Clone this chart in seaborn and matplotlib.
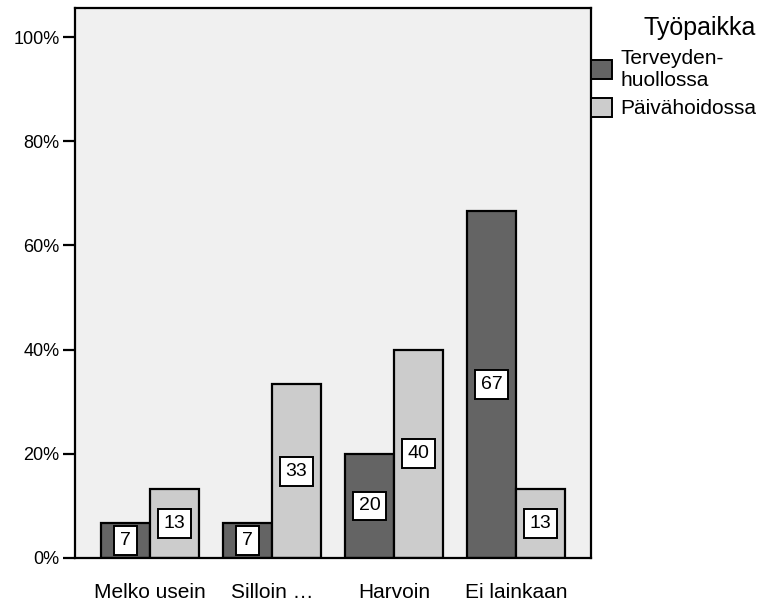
import matplotlib
matplotlib.use("Agg")
import matplotlib.pyplot as plt
import seaborn as sns
import pandas as pd

categories = ["Melko usein", "Silloin …", "Harvoin", "Ei lainkaan"]
groups = ["Terveyden-\nhuollossa", "Päivähoidossa"]
terveys = [6.67, 6.67, 20.0, 66.67]
paivahoito = [13.33, 33.33, 40.0, 13.33]
yticks = [0, 20, 40, 60, 80, 100]
ytick_labels = ["0%", "20%", "40%", "60%", "80%", "100%"]

df = pd.DataFrame({
    "cat": categories * 2,
    "grp": [groups[0]] * 4 + [groups[1]] * 4,
    "val": terveys + paivahoito,
})

sns.set_style("white")
plt.rcParams["font.family"] = ["Liberation Sans", "DejaVu Sans"]
for k in ["text.color", "axes.labelcolor", "xtick.color", "ytick.color"]:
    plt.rcParams[k] = "black"

fig = plt.figure(figsize=(7.65, 6.05), dpi=100)
ax = fig.add_axes([0.098, 0.0777, 0.6745, 0.9091])
ax.set_facecolor("#F0F0F0")

sns.barplot(data=df, x="cat", y="val", hue="grp", order=categories,
            hue_order=groups, palette=["#646464", "#CCCCCC"],
            edgecolor="black", linewidth=1.6, width=0.8, ax=ax, errorbar=None)

for cont in ax.containers:
    labels = [f"{v:.0f}" for v in cont.datavalues]
    ax.bar_label(cont, labels=labels, label_type="center", fontsize=14,
                 bbox=dict(boxstyle="square,pad=0.3", fc="white", ec="black", lw=1.4))

ax.set_xlim(-0.615, 3.615)
ax.set_ylim(0, 105.6)
ax.set_yticks(yticks)
ax.set_yticklabels(ytick_labels, fontsize=13)
ax.tick_params(axis="y", direction="out", length=9, width=1.6, left=True, pad=2)
ax.tick_params(axis="x", length=0, labelsize=15, pad=18)
ax.set_xlabel("")
ax.set_ylabel("")
for s in ax.spines.values():
    s.set_visible(True)
    s.set_color("black")
    s.set_linewidth(1.6)

leg = ax.legend(title="Työpaikka", loc="upper left", bbox_to_anchor=(1.0, 0.985),
                frameon=False, fontsize=15, title_fontsize=18, alignment="right",
                handlelength=1.0, handleheight=1.0, handletextpad=0.4,
                labelspacing=0.4, borderaxespad=0.0, borderpad=0.0)
for h in leg.legend_handles:
    h.set_edgecolor("black")
    h.set_linewidth(1.4)

fig.savefig("out.png", dpi=100)
